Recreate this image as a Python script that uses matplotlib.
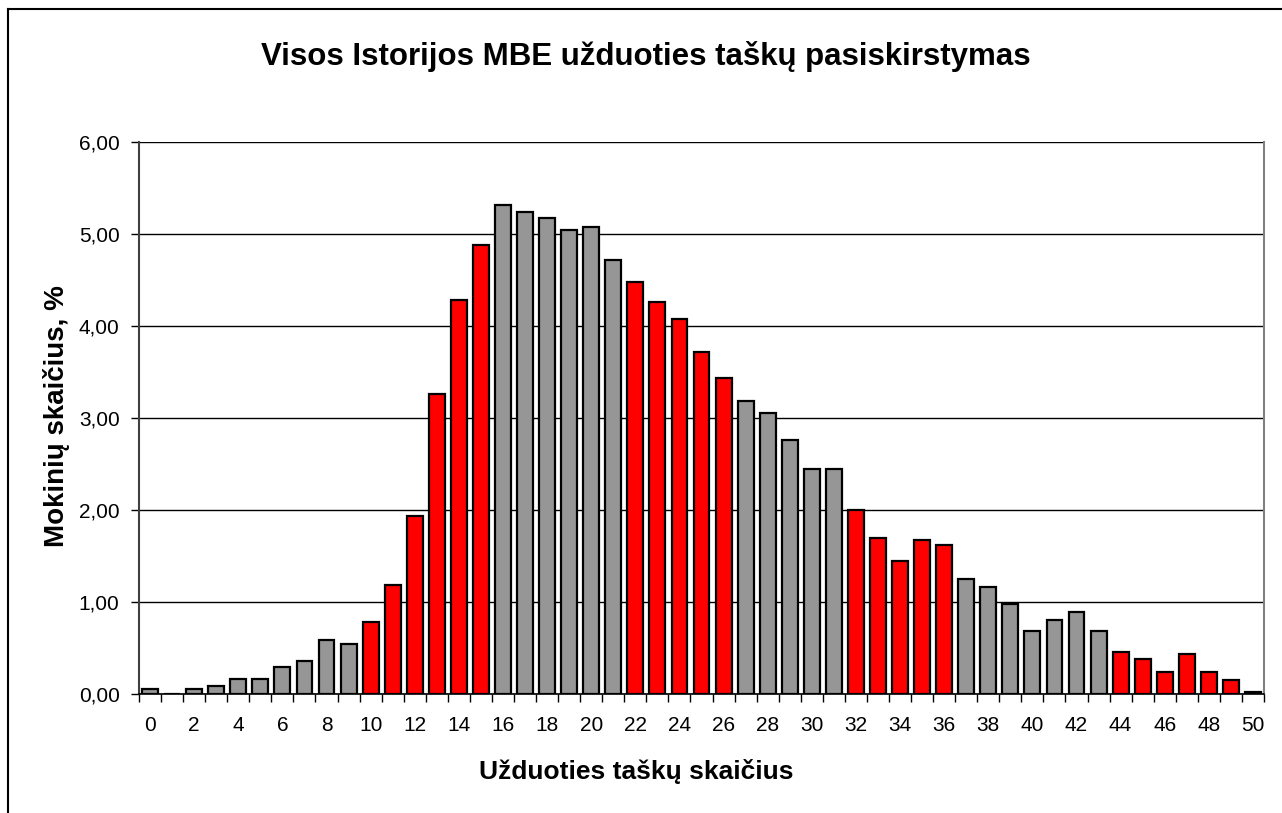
import matplotlib
matplotlib.use("Agg")
import matplotlib.pyplot as plt
from matplotlib.lines import Line2D
from matplotlib.ticker import FuncFormatter
import numpy as np

plt.rcParams['font.family'] = ['Liberation Sans', 'DejaVu Sans']

# task points 0..50 and share of students (%)
scores = list(range(0, 51))
percent = [0.05, 0.00, 0.05, 0.09, 0.16, 0.16, 0.29, 0.36, 0.59, 0.54,
           0.78, 1.18, 1.94, 3.26, 4.28, 4.88, 5.31, 5.24, 5.17, 5.04,
           5.08, 4.72, 4.48, 4.26, 4.08, 3.72, 3.43, 3.18, 3.05, 2.76,
           2.45, 2.45, 2.00, 1.70, 1.45, 1.67, 1.62, 1.25, 1.16, 0.98,
           0.69, 0.80, 0.89, 0.69, 0.46, 0.38, 0.24, 0.44, 0.24, 0.15,
           0.02]
# score ranges drawn in red
red_ranges = [(10, 15), (22, 26), (32, 36), (44, 50)]

title = "Visos Istorijos MBE užduoties taškų pasiskirstymas"
xlabel = "Užduoties taškų skaičius"
ylabel = "Mokinių skaičius, %"

colors = []
for s in scores:
    hit = any(a <= s <= b for a, b in red_ranges)
    colors.append('#ff0000' if hit else '#969696')

fig = plt.figure(figsize=(12.82, 8.13), dpi=100)
ax = fig.add_axes([139 / 1282, 1 - 694 / 813, (1264 - 139) / 1282, (694 - 142) / 813])

ax.bar(scores, percent, width=0.72, color=colors, edgecolor='black', linewidth=1.6, zorder=3)

ax.set_xlim(-0.5, 50.5)
ax.set_ylim(0, 6)
ax.set_yticks(np.arange(0, 7, 1))
ax.yaxis.set_major_formatter(FuncFormatter(lambda v, p: f"{v:.2f}".replace('.', ',')))
ax.grid(axis='y', color='black', linewidth=1.0, zorder=0)

ax.set_xticks(scores[::2])
ax.set_xticklabels([str(s) for s in scores[::2]])
ax.set_xticks(np.arange(-0.5, 51, 1), minor=True)
ax.tick_params(axis='x', which='major', length=0, pad=16, labelsize=15)
ax.tick_params(axis='x', which='minor', length=6, width=1, color='black', direction='out')
ax.tick_params(axis='y', length=6, width=1, pad=8, labelsize=15, direction='out')

ax.spines['top'].set_visible(False)
ax.spines['right'].set_color('#808080')
ax.spines['right'].set_linewidth(1.5)
ax.spines['left'].set_color('#404040')
ax.spines['left'].set_linewidth(1.5)
ax.spines['bottom'].set_linewidth(1.2)

fig.text(646 / 1282, 1 - 56 / 813, title, ha='center', va='center', fontsize=22.5, fontweight='bold')
fig.text(636 / 1282, 1 - 771 / 813, xlabel, ha='center', va='center', fontsize=19, fontweight='bold')
fig.text(56 / 1282, 1 - 416 / 813, ylabel, ha='center', va='center', fontsize=20, fontweight='bold', rotation=90)

# outer chart border (top and left edges visible)
fig.add_artist(Line2D([8 / 1282, 1], [1 - 9 / 813, 1 - 9 / 813], color='black', linewidth=1.5))
fig.add_artist(Line2D([8 / 1282, 8 / 1282], [0, 1 - 9 / 813], color='black', linewidth=1.5))

fig.savefig("out.png", dpi=100)
